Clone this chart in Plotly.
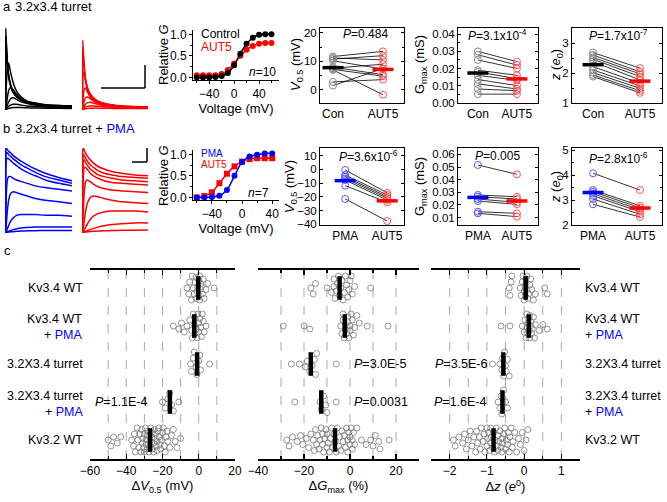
import numpy as np
import plotly.graph_objects as go

W, H = 667, 502
FONT = "Liberation Sans, Arial, sans-serif"
RED = "#ff0000"
BLUE = "#0000ff"
RED_L = "#ff5050"
BLUE_L = "#5555ff"
GRAY = "#8a8a8a"

# ------------------------------------------------------------------ data
# current traces (normalised time, normalised amplitude)
trace_t = [0, 0.006, 0.015, 0.03, 0.05, 0.08, 0.12, 0.17, 0.24, 0.33, 0.45, 0.6, 0.8, 1.0]

a_control_sweeps = [
    [0, 1.0, 0.82, 0.6, 0.42, 0.3, 0.22, 0.16, 0.12, 0.09, 0.07, 0.055, 0.045, 0.04],
    [0, 0.9, 0.8, 0.58, 0.41, 0.29, 0.21, 0.155, 0.115, 0.085, 0.065, 0.05, 0.042, 0.038],
    [0, 0.6, 0.72, 0.56, 0.4, 0.28, 0.2, 0.15, 0.11, 0.08, 0.062, 0.048, 0.04, 0.036],
    [0, 0.08, 0.3, 0.5, 0.57, 0.45, 0.32, 0.22, 0.15, 0.1, 0.075, 0.055, 0.045, 0.04],
    [0, 0.01, 0.05, 0.14, 0.23, 0.27, 0.24, 0.18, 0.13, 0.09, 0.066, 0.05, 0.04, 0.035],
    [0, 0, 0.02, 0.05, 0.09, 0.13, 0.14, 0.12, 0.09, 0.07, 0.05, 0.04, 0.033, 0.03],
    [0, 0, 0.01, 0.02, 0.035, 0.05, 0.06, 0.06, 0.05, 0.04, 0.032, 0.027, 0.023, 0.02],
    [0, 0, 0, 0.005, 0.01, 0.015, 0.02, 0.02, 0.02, 0.017, 0.015, 0.013, 0.012, 0.01],
]
a_aut5_sweeps = [
    [0, 0.85, 0.72, 0.52, 0.37, 0.26, 0.19, 0.14, 0.1, 0.075, 0.055, 0.04, 0.032, 0.028],
    [0, 0.72, 0.66, 0.5, 0.36, 0.25, 0.18, 0.13, 0.095, 0.07, 0.05, 0.038, 0.03, 0.026],
    [0, 0.3, 0.45, 0.44, 0.34, 0.24, 0.17, 0.12, 0.09, 0.065, 0.048, 0.036, 0.029, 0.025],
    [0, 0.06, 0.17, 0.25, 0.26, 0.21, 0.15, 0.11, 0.08, 0.06, 0.045, 0.034, 0.027, 0.023],
    [0, 0.01, 0.05, 0.1, 0.14, 0.15, 0.13, 0.1, 0.075, 0.055, 0.04, 0.031, 0.025, 0.021],
    [0, 0, 0.02, 0.04, 0.06, 0.08, 0.085, 0.075, 0.06, 0.045, 0.035, 0.027, 0.022, 0.019],
    [0, 0, 0.005, 0.015, 0.025, 0.035, 0.04, 0.04, 0.035, 0.03, 0.025, 0.02, 0.017, 0.015],
    [0, 0, 0, 0.003, 0.006, 0.01, 0.012, 0.013, 0.013, 0.012, 0.01, 0.009, 0.008, 0.007],
]
b_pma_sweeps = [
    [0, 0.97, 1.0, 0.98, 0.96, 0.94, 0.91, 0.88, 0.84, 0.8, 0.75, 0.7, 0.65, 0.61],
    [0, 0.85, 0.95, 0.94, 0.92, 0.9, 0.87, 0.84, 0.8, 0.76, 0.71, 0.66, 0.62, 0.58],
    [0, 0.6, 0.86, 0.88, 0.87, 0.85, 0.82, 0.79, 0.75, 0.71, 0.67, 0.62, 0.58, 0.55],
    [0, 0.15, 0.45, 0.62, 0.66, 0.66, 0.64, 0.62, 0.6, 0.58, 0.55, 0.53, 0.51, 0.49],
    [0, 0.02, 0.1, 0.25, 0.38, 0.46, 0.48, 0.47, 0.45, 0.43, 0.4, 0.38, 0.36, 0.34],
    [0, 0, 0.01, 0.04, 0.08, 0.13, 0.17, 0.2, 0.21, 0.21, 0.21, 0.2, 0.2, 0.19],
    [0, 0, 0, 0.005, 0.01, 0.02, 0.03, 0.04, 0.05, 0.055, 0.06, 0.06, 0.06, 0.06],
    [0, 0, 0, 0, 0.002, 0.004, 0.006, 0.01, 0.013, 0.016, 0.018, 0.02, 0.02, 0.02],
]
b_aut5_sweeps = [
    [0, 0.96, 1.0, 0.97, 0.94, 0.9, 0.86, 0.82, 0.78, 0.75, 0.72, 0.7, 0.68, 0.67],
    [0, 0.85, 0.93, 0.91, 0.88, 0.84, 0.8, 0.77, 0.73, 0.7, 0.68, 0.66, 0.65, 0.64],
    [0, 0.6, 0.84, 0.86, 0.83, 0.79, 0.75, 0.72, 0.68, 0.66, 0.64, 0.62, 0.61, 0.6],
    [0, 0.3, 0.65, 0.77, 0.77, 0.74, 0.7, 0.67, 0.64, 0.61, 0.59, 0.58, 0.57, 0.56],
    [0, 0.05, 0.25, 0.48, 0.6, 0.62, 0.6, 0.57, 0.54, 0.52, 0.5, 0.49, 0.48, 0.47],
    [0, 0.01, 0.05, 0.14, 0.25, 0.35, 0.41, 0.43, 0.42, 0.4, 0.38, 0.36, 0.35, 0.34],
    [0, 0, 0.01, 0.03, 0.06, 0.1, 0.15, 0.19, 0.22, 0.24, 0.25, 0.25, 0.25, 0.24],
    [0, 0, 0, 0.005, 0.01, 0.02, 0.03, 0.045, 0.06, 0.075, 0.09, 0.1, 0.11, 0.11],
    [0, 0, 0, 0, 0.002, 0.004, 0.007, 0.01, 0.013, 0.016, 0.02, 0.022, 0.024, 0.025],
]

# activation curves
act_a_v = [-60, -50, -40, -30, -20, -10, 0, 10, 20, 30, 40, 50, 60]
act_a_control = [0.0, 0.0, 0.0, 0.01, 0.03, 0.1, 0.28, 0.55, 0.78, 0.92, 0.99, 1.0, 1.0]
act_a_control_sem = [0.01, 0.01, 0.01, 0.01, 0.01, 0.02, 0.03, 0.03, 0.03, 0.02, 0.02, 0.01, 0.01]
act_a_aut5 = [0.05, 0.05, 0.05, 0.05, 0.08, 0.17, 0.32, 0.5, 0.64, 0.73, 0.78, 0.8, 0.8]
act_a_aut5_sem = [0.02, 0.02, 0.02, 0.02, 0.02, 0.02, 0.03, 0.03, 0.03, 0.03, 0.03, 0.03, 0.03]

act_b_v = [-60, -50, -40, -30, -20, -10, 0, 10, 20, 30, 40]
act_b_pma = [0.0, 0.0, 0.01, 0.04, 0.17, 0.5, 0.82, 0.95, 0.99, 1.02, 1.02]
act_b_pma_sem = [0.01, 0.01, 0.01, 0.02, 0.03, 0.04, 0.04, 0.03, 0.02, 0.02, 0.02]
act_b_aut5 = [0.0, 0.03, 0.12, 0.33, 0.55, 0.72, 0.83, 0.89, 0.91, 0.91, 0.91]
act_b_aut5_sem = [0.01, 0.02, 0.03, 0.04, 0.04, 0.03, 0.03, 0.02, 0.02, 0.02, 0.02]

# paired data, panel a (n=10)
a_v05_con = [11.7, 11.2, 10.8, 10.2, 8.0, 7.6, 7.2, 7.0, 2.8, 1.5]
a_v05_aut5 = [13.5, 10.5, 12.0, 7.3, 5.3, 9.0, 4.8, -1.7, 3.6, 7.5]
a_gmax_con = [0.030, 0.028, 0.025, 0.019, 0.018, 0.016, 0.0135, 0.011, 0.008, 0.005]
a_gmax_aut5 = [0.024, 0.022, 0.020, 0.016, 0.014, 0.013, 0.010, 0.008, 0.007, 0.005]
a_z_con = [2.68, 2.6, 2.52, 2.46, 2.38, 2.21, 2.1, 2.01, 1.93, 1.88]
a_z_aut5 = [2.16, 2.04, 1.97, 1.88, 1.77, 1.66, 1.57, 1.49, 1.41, 1.34]

# paired data, panel b (n=7)
b_v05_pma = [-0.4, -4.1, -5.3, -6.5, -7.7, -11.8, -21.5]
b_v05_aut5 = [-17.0, -18.6, -19.9, -21.0, -22.3, -24.0, -37.6]
b_gmax_pma = [0.0516, 0.0279, 0.0265, 0.0247, 0.0231, 0.0147, 0.0134]
b_gmax_aut5 = [0.0442, 0.0265, 0.0247, 0.0221, 0.0205, 0.0134, 0.0108]
b_z_pma = [4.07, 3.4, 3.33, 3.25, 3.17, 3.04, 2.83]
b_z_aut5 = [3.4, 2.77, 2.69, 2.61, 2.53, 2.43, 2.32]

# panel c
c_groups = ["Kv3.4 WT", "Kv3.4 WT<br>+ <span style='color:#0000ff'>PMA</span>",
            "3.2X3.4 turret", "3.2X3.4 turret<br>+ <span style='color:#0000ff'>PMA</span>",
            "Kv3.2 WT"]
c_dv05 = [
    [-6.5, -5.5, -5, -4, -3, -2.5, -2, -1.5, -1, -0.5, 0, 0, 0.5, 1, 1.5, 2, 2.5, 3, 4, 5, 8.5, -1.5, 0.5, 1, -3.5],
    [-14, -11, -9.5, -8, -6.5, -5, -4, -3.5, -3, -2.5, -2, -1.5, -1, -0.5, 0, 0, 0.5, 1, 1.5, 2, 2.5, 3, 4, -2],
    [-4.5, -4, -3, -2.5, -1.5, -1, 0, 0.5, 1, 6],
    [-20, -18.5, -17, -16, -15, -14, -11],
    [-50, -48.5, -47, -45, -43, -37, -36, -35.5, -35, -34, -33.5, -33, -32.5, -32, -31.5,
     -31, -30.5, -30, -30, -29.5, -29, -28.5, -28, -28, -27.5, -27, -26.5, -26, -26, -25.5,
     -25, -25, -24.5, -24, -23.5, -23, -23, -22.5, -22, -21.5, -21, -20.5, -20, -19.5, -19,
     -18.5, -18, -17.5, -17, -16, -15, -14, -13, -12, -10, -24, -27, -29, -31, -22],
]
c_dgmax = [
    [-17, -16, -15, -10, -7, -8, -7, -6.5, -6, -5.5, -5, -4.5, -4, -3.5, -3, -2.5, -2, -1.5, -1, -0.5, 0, 0.5, 1, 2, 9],
    [-29, -20, -17.5, -4, -3.5, -3, -3, -2.5, -2, -2, -1.5, -1, -1, -0.5, 0, 0, 0.5, 1, 1.5, 2, 3, 4, 7.5, 16.5],
    [-25.5, -22, -19.5, -18.5, -17.5, -16.5, -15.5, -14.5, -15, -6],
    [-24, -13, -12.5, -11.5, -10.5, -10, -6],
    [-27.5, -26.5, -25, -23, -21.5, -20.5, -19, -18, -17, -16, -15.5, -15, -14.5, -14, -13.5,
     -13, -12.5, -12, -12, -11.5, -11, -10.5, -10, -10, -9.5, -9, -8.5, -8, -7.5, -7, -6.5,
     -6, -5.5, -5, -4.5, -4, -3.5, -3, -2.5, -2, -1.5, -1, -1, -0.5, 0, 0, 0.5, 1, 1, 1.5,
     2, 3, 5, 7, 9, 10, 11, 12.5, 13, 17],
]
c_dz = [
    [-0.4, -0.38, -0.35, -0.33, -0.1, -0.08, -0.05, -0.03, 0, 0, 0.02, 0.03, 0.05, 0.05, 0.07,
     0.08, 0.1, 0.12, 0.15, 0.18, 0.2, 0.25, 0.3, 0.55, 0.62],
    [-0.62, -0.38, -0.05, 0, 0.02, 0.05, 0.07, 0.08, 0.1, 0.1, 0.12, 0.13, 0.15, 0.15, 0.17,
     0.18, 0.2, 0.22, 0.25, 0.28, 0.3, 0.4, 0.5, 0.62],
    [-0.85, -0.65, -0.6, -0.58, -0.55, -0.52, -0.5, -0.48, -0.45, -0.4],
    [-0.7, -0.65, -0.62, -0.6, -0.55, -0.5, -0.45],
    [-1.9, -1.85, -1.75, -1.65, -1.6, -1.55, -1.5, -1.45, -1.4, -1.35, -1.3, -1.28, -1.25, -1.2,
     -1.18, -1.15, -1.1, -1.08, -1.05, -1.0, -0.98, -0.95, -0.92, -0.9, -0.88, -0.85, -0.82,
     -0.8, -0.78, -0.75, -0.72, -0.7, -0.68, -0.65, -0.62, -0.6, -0.58, -0.55, -0.52, -0.5,
     -0.48, -0.45, -0.42, -0.4, -0.38, -0.35, -0.32, -0.3, -0.25, -0.2, -0.15, -0.1, -0.05,
     0.0, 0.05, 0.1, -1.0, -0.9, -0.7, -0.6],
]

# ------------------------------------------------------------------ helpers
def xd(x0, x1):
    return [x0 / W, x1 / W]


def yd(y0, y1):
    return [1 - y1 / H, 1 - y0 / H]


def refs(n):
    return ("x" if n == 1 else f"x{n}", "y" if n == 1 else f"y{n}")


layout = {}
annotations = []
shapes = []


def set_axes(n, xdom, ydom, xopt, yopt):
    xr, yr = refs(n)
    xk = "xaxis" if n == 1 else f"xaxis{n}"
    yk = "yaxis" if n == 1 else f"yaxis{n}"
    base = dict(showgrid=False, zeroline=False, fixedrange=True)
    layout[xk] = dict(domain=xd(*xdom), anchor=yr, **base, **xopt)
    layout[yk] = dict(domain=yd(*ydom), anchor=xr, **base, **yopt)


def ann(text, x, y, xanchor="center", size=12, color="black", yanchor="middle", align=None, angle=0):
    d = dict(text=text, x=x / W, y=1 - y / H, xref="paper", yref="paper",
             xanchor=xanchor, yanchor=yanchor, showarrow=False, textangle=angle,
             font=dict(size=size, color=color, family=FONT))
    if align:
        d["align"] = align
    annotations.append(d)


def pline(x0, y0, x1, y1, w=1.5):
    shapes.append(dict(type="line", xref="paper", yref="paper",
                       x0=x0 / W, y0=1 - y0 / H, x1=x1 / W, y1=1 - y1 / H,
                       line=dict(color="black", width=w)))


fig = go.Figure()

# ------------------------------------------------------------------ traces
def add_sweeps(n, sweeps, color):
    xr, yr = refs(n)
    for s in sweeps:
        fig.add_trace(go.Scatter(x=trace_t, y=s, mode="lines", xaxis=xr, yaxis=yr,
                                 line=dict(color=color, width=1.5, shape="spline", smoothing=0.5),
                                 hoverinfo="skip", showlegend=False))


add_sweeps(1, a_control_sweeps, "black")
add_sweeps(2, a_aut5_sweeps, RED)
add_sweeps(7, b_pma_sweeps, BLUE)
add_sweeps(8, b_aut5_sweeps, RED)
trace_x = dict(visible=False, range=[-0.005, 1.0])
trace_y = dict(visible=False, range=[-0.01, 1.0])
set_axes(1, (5, 72), (28, 110), trace_x, trace_y)
set_axes(2, (82, 148), (28, 110), trace_x, trace_y)
set_axes(7, (5, 72), (148, 233), trace_x, trace_y)
set_axes(8, (82, 148), (148, 233), trace_x, trace_y)

# scale bars
pline(101, 88, 145, 88)
pline(145, 88, 145, 65)
pline(132, 162, 147, 162)
pline(147, 162, 147, 148)

# ------------------------------------------------------------------ activation
def add_act(n, v, g, sem, color, symbol):
    xr, yr = refs(n)
    fig.add_trace(go.Scatter(x=v, y=g, mode="lines+markers", xaxis=xr, yaxis=yr,
                             line=dict(color=color, width=1.5, shape="spline", smoothing=0.8),
                             marker=dict(color=color, size=6, symbol=symbol),
                             error_y=dict(type="data", array=sem, color=color, thickness=1.2, width=0),
                             hoverinfo="skip", showlegend=False))


add_act(3, act_a_v, act_a_aut5, act_a_aut5_sem, RED, "circle")
add_act(3, act_a_v, act_a_control, act_a_control_sem, "black", "circle")
add_act(9, act_b_v, act_b_aut5, act_b_aut5_sem, RED, "square")
add_act(9, act_b_v, act_b_pma, act_b_pma_sem, BLUE, "circle")

TF = dict(family=FONT, size=12, color="black")
TF11 = dict(family=FONT, size=11.5, color="black")
TT = dict(family=FONT, size=13, color="black")


def act_x(rng):
    return dict(range=rng, showline=True, linecolor="black", linewidth=1, ticks="outside",
                ticklen=3, tickcolor="black", tickvals=[-40, 0, 40], tickfont=TF,
                minor=dict(tickvals=[-60, -20, 20, 60], ticks="outside", ticklen=2, tickcolor="black"),
                title=dict(text="Voltage (mV)", font=TT, standoff=2))


act_y = dict(range=[-0.06, 1.1], showline=True, linecolor="black", linewidth=1, ticks="outside",
             ticklen=3, tickcolor="black", tickvals=[0, 0.5, 1.0], ticktext=["0.0", "0.5", "1.0"],
             tickfont=TF, minor=dict(tickvals=[0.25, 0.75], ticks="outside", ticklen=2, tickcolor="black"))
set_axes(3, (193, 279), (30, 80), act_x([-66, 72]), act_y)
set_axes(9, (193, 279), (150, 200), act_x([-65, 49]), act_y)

ann("Relative <i>G</i>", 163, 55, size=13, angle=-90)
ann("Relative <i>G</i>", 163, 176, size=13, angle=-90)
ann("Control", 199, 34, "left", 12)
ann("AUT5", 199, 47, "left", 12, RED)
ann("<i>n</i>=10", 278, 72, "right", 12)
ann("PMA", 199, 154, "left", 10, BLUE)
ann("AUT5", 199, 165, "left", 10, RED)
ann("<i>n</i>=7", 271, 193, "right", 12)

# ------------------------------------------------------------------ paired plots
def add_pair(n, left, right, lcol, rcol, lmean_col, rmean_col):
    xr, yr = refs(n)
    lx, ly = [], []
    for a, b in zip(left, right):
        lx += [0, 1, None]
        ly += [a, b, None]
    fig.add_trace(go.Scatter(x=lx, y=ly, mode="lines", xaxis=xr, yaxis=yr,
                             line=dict(color="black", width=0.8), hoverinfo="skip", showlegend=False))
    fig.add_trace(go.Scatter(x=[0] * len(left), y=left, mode="markers", xaxis=xr, yaxis=yr,
                             marker=dict(symbol="circle-open", size=7, color=lcol, line=dict(width=1, color=lcol)),
                             hoverinfo="skip", showlegend=False))
    fig.add_trace(go.Scatter(x=[1] * len(right), y=right, mode="markers", xaxis=xr, yaxis=yr,
                             marker=dict(symbol="circle-open", size=7, color=rcol, line=dict(width=1, color=rcol)),
                             hoverinfo="skip", showlegend=False))
    for xpos, vals, col in ((0, left, lmean_col), (1, right, rmean_col)):
        fig.add_trace(go.Scatter(x=[xpos], y=[float(np.mean(vals))], mode="markers", xaxis=xr, yaxis=yr,
                                 marker=dict(symbol="line-ew", size=15, color=col, line=dict(width=3.5, color=col)),
                                 hoverinfo="skip", showlegend=False))


def pair_x(rng, labels):
    return dict(range=rng, showline=True, mirror=True, linecolor="black", linewidth=1,
                tickvals=[0, 1], ticktext=labels, ticks="", tickfont=TF)


def pair_y(rng, tv, tt, minor):
    d = dict(range=rng, showline=True, mirror="ticks", linecolor="black", linewidth=1,
             ticks="inside", ticklen=3, tickcolor="black", tickvals=tv, ticktext=tt, tickfont=TF11)
    if minor:
        d["minor"] = dict(tickvals=minor, ticks="inside", ticklen=2, tickcolor="black")
    return d


V_T = "<i>V</i><sub>0.5</sub> (mV)"
G_T = "G<sub>max</sub> (mS)"
Z_T = "<i>z</i> (<i>e</i><sub>0</sub>)"

add_pair(4, a_v05_con, a_v05_aut5, GRAY, RED_L, "black", RED)
add_pair(5, a_gmax_con, a_gmax_aut5, GRAY, RED_L, "black", RED)
add_pair(6, a_z_con, a_z_aut5, GRAY, RED_L, "black", RED)
add_pair(10, b_v05_pma, b_v05_aut5, BLUE_L, RED_L, BLUE, RED)
add_pair(11, b_gmax_pma, b_gmax_aut5, BLUE_L, RED_L, BLUE, RED)
add_pair(12, b_z_pma, b_z_aut5, BLUE_L, RED_L, BLUE, RED)

g_a_ticks = [0, 0.01, 0.02, 0.03, 0.04]
g_b_ticks = [0.01, 0.02, 0.03, 0.04, 0.05, 0.06]
set_axes(4, (320, 404), (28, 103), pair_x([-0.26, 1.42], ["Con", "AUT5"]),
         pair_y([-4.6, 21.7], [0, 10, 20], None, [5, 15]))
set_axes(5, (458, 538), (28, 103), pair_x([-0.51, 1.54], ["Con", "AUT5"]),
         pair_y([-0.0002, 0.0437], g_a_ticks, [f"{v:.2f}" for v in g_a_ticks],
                [0.005, 0.015, 0.025, 0.035]))
set_axes(6, (572, 662), (28, 103), pair_x([-0.45, 1.47], ["Con", "AUT5"]),
         pair_y([1, 3.5], [1, 2, 3], ["1", "2", "3"], [1.5, 2.5]))
set_axes(10, (320, 404), (148, 225), pair_x([-0.6, 1.4], ["PMA", "AUT5"]),
         pair_y([-40.5, 15.6], [-40, -30, -20, -10, 0, 10], None, None))
set_axes(11, (458, 538), (148, 225), pair_x([-0.51, 1.54], ["PMA", "AUT5"]),
         pair_y([0.0042, 0.065], g_b_ticks, [f"{v:.2f}" for v in g_b_ticks], None))
set_axes(12, (572, 662), (148, 225), pair_x([-0.45, 1.47], ["PMA", "AUT5"]),
         pair_y([2, 5.08], [2, 3, 4, 5], ["2", "3", "4", "5"], [2.5, 3.5, 4.5]))

ann(V_T, 296, 65, size=13, angle=-90)
ann(V_T, 290, 187, size=13, angle=-90)
for ty in (65, 187):
    ann(G_T, 420, ty, size=13, angle=-90)
    ann(Z_T, 556, ty, size=13, angle=-90)

ann("<i>P</i>=0.484", 365, 34)
ann("<i>P</i>=3.1x10<sup>-4</sup>", 497, 35)
ann("<i>P</i>=1.7x10<sup>-7</sup>", 618, 35)
ann("<i>P</i>=3.6x10<sup>-6</sup>", 368, 156)
ann("<i>P</i>=0.005", 497, 156)
ann("<i>P</i>=2.8x10<sup>-6</sup>", 618, 158)

# ------------------------------------------------------------------ panel c
ROW_PX = 38.0


def swarm_offsets(vals, px_per_unit, diam=6.2, max_px=12.0, step=1.5):
    xs = np.asarray(vals, float) * px_per_unit
    order = np.argsort(xs, kind="stable")
    cands = [0.0]
    k = 1
    while k * step <= max_px:
        cands += [k * step, -k * step]
        k += 1
    px_, py_ = [], []
    off = np.zeros(len(xs))
    for i in order:
        best, bestd = 0.0, -1.0
        for c in cands:
            d = np.min(np.hypot(np.array(px_) - xs[i], np.array(py_) - c)) if px_ else 1e9
            if d >= diam:
                best = c
                break
            if d > bestd:
                best, bestd = c, d
        px_.append(xs[i])
        py_.append(best)
        off[i] = best / ROW_PX
    return off


c_panels = [
    (13, c_dv05, 1.81, (90, 235), [-60, 20], [-60, -40, -20, 0, 20], [-50, -30, -10, 10],
     [-50, -40, -30, -20, -10, 0, 10], "Δ<i>V</i><sub>0.5</sub> (mV)"),
    (14, c_dgmax, 2.3, (258, 419), [-40, 30], [-40, -20, 0, 20], [-30, -10, 10, 30],
     [-30, -20, -10, 0, 10, 20], "Δ<i>G</i><sub>max</sub> (%)"),
    (15, c_dz, 37.25, (431, 580), [-2.5, 1.5], [-2, -1, 0, 1], [-2.5, -1.5, -0.5, 0.5, 1.5],
     [-2, -1.5, -1, -0.5, 0, 0.5, 1], "Δ<i>z</i> (<i>e</i><sup>0</sup>)"),
]

for n, rows, ppu, xdom, rng, tv, minor, grid, title in c_panels:
    xr, yr = refs(n)
    for gx in grid:
        shapes.append(dict(type="line", xref=xr, yref=f"{yr} domain", x0=gx, x1=gx, y0=0, y1=1,
                           line=dict(color="#a8a8a8", width=1, dash="dash"), layer="below"))
    for r, vals in enumerate(rows):
        off = swarm_offsets(vals, ppu)
        fig.add_trace(go.Scatter(x=vals, y=r + off, mode="markers", xaxis=xr, yaxis=yr,
                                 marker=dict(symbol="circle-open", size=6, color="#7a7a7a",
                                             line=dict(width=0.8, color="#7a7a7a")),
                                 hoverinfo="skip", showlegend=False))
        m = float(np.mean(vals))
        fig.add_trace(go.Scatter(x=[m, m], y=[r - 0.31, r + 0.31], mode="lines", xaxis=xr, yaxis=yr,
                                 line=dict(color="black", width=4.5), hoverinfo="skip", showlegend=False))
    set_axes(n, xdom, (270, 459),
             dict(range=rng, showline=True, mirror="ticks", linecolor="black", linewidth=1.6,
                  ticks="inside", ticklen=5, tickcolor="black", tickwidth=1.2, tickvals=tv, tickfont=TF,
                  minor=dict(tickvals=minor, ticks="inside", ticklen=3, tickcolor="black"),
                  title=dict(text=title, font=TT, standoff=4)),
             dict(visible=False, range=[4.5, -0.474]))

row_y = [288, 327, 364, 404, 440]
for label, y in zip(c_groups, row_y):
    ann(label, 85, y, "right", 12.5, align="right")
    ann(label, 583, y, "left", 12.5, align="left")

ann("<i>P</i>=1.1E-4", 150, 402, "right", 12.5)
ann("<i>P</i>=3.0E-5", 352, 364, "left", 12.5)
ann("<i>P</i>=0.0031", 352, 402, "left", 12.5)
ann("<i>P</i>=3.5E-6", 490, 364, "right", 12.5)
ann("<i>P</i>=1.6E-4", 489, 402, "right", 12.5)

# ------------------------------------------------------------------ headers
ann("a", 1, 7, "left", 13)
ann("3.2x3.4 turret", 13, 7, "left", 13)
ann("b", 1, 128, "left", 13)
ann("3.2x3.4 turret + <span style='color:#0000ff'>PMA</span>", 13, 128, "left", 13)
ann("c", 2, 250, "left", 13)

fig.update_layout(width=W, height=H, margin=dict(l=0, r=0, t=0, b=0), template="none",
                  paper_bgcolor="white", plot_bgcolor="rgba(0,0,0,0)", showlegend=False,
                  font=dict(family=FONT, size=12, color="black"), hovermode=False,
                  annotations=annotations, shapes=shapes, **layout)

fig.write_html("out.html", config={"displayModeBar": False, "staticPlot": True},
               post_script="document.body.style.margin='0px';document.body.style.padding='0px';")
